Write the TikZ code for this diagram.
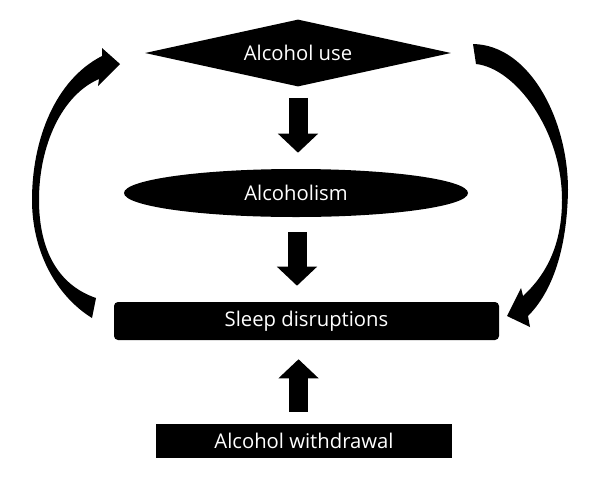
\documentclass[tikz,border=0pt]{standalone}
\usepackage{fontspec}
\setmainfont{Open Sans}
\usetikzlibrary{shapes.geometric,arrows.meta,calc}
\tikzset{
  box/.style={fill=black,text=white,font=\fontsize{15.2}{17}\selectfont,inner sep=0pt},
  blockarrow/.style={line width=14.25pt,-{Triangle[width=29.25pt,length=14.25pt]}},
}
\begin{document}
\begin{tikzpicture}[x=0.75pt,y=-0.75pt]
\useasboundingbox (0,0) rectangle (600,483);
\node[box,diamond,aspect=4.57,minimum width=229.5pt,minimum height=50.25pt] (au) at (298,53) {Alcohol use};
\node[box,ellipse,minimum width=258pt,minimum height=36pt] (alc) at (296,193) {Alcoholism};
\node[box,rectangle,rounded corners=3pt,minimum width=288.75pt,minimum height=28.5pt] (sl) at (306.5,321) {Sleep disruptions};
\node[box,rectangle,minimum width=222pt,minimum height=25.5pt] (wd) at (304,441) {Alcohol withdrawal};
% block arrows
\draw[blockarrow,shorten <=8.25pt,shorten >=12pt] (au.south) -- (au.south |- alc.north);
\draw[blockarrow,shorten <=11.25pt,shorten >=12pt] ([xshift=0.75pt]alc.south) -- ([xshift=0.75pt]alc.south |- sl.north);
\draw[blockarrow,shorten <=9pt,shorten >=14.25pt] ([xshift=1.9pt]alc.center |- wd.north) -- ([xshift=1.9pt]alc.center |- sl.south);
% curved arrows
\fill (92,318) .. controls (55,295) and (32,250) .. (32,200)
  .. controls (32,140) and (55,80) .. (102,56) -- (102,48) -- (120,64) -- (98,86) -- (99,79)
  .. controls (62,95) and (39,145) .. (39,200)
  .. controls (39,250) and (58,285) .. (96,298) -- cycle;
\fill (473,44) .. controls (530,45) and (568,120) .. (568,190)
  .. controls (567,250) and (552,292) .. (528,316) -- (530,327) -- (507,316) -- (521,288) -- (523,296)
  .. controls (546,275) and (562,245) .. (562,200)
  .. controls (562,130) and (515,68) .. (476,64) -- cycle;
\end{tikzpicture}
\end{document}
